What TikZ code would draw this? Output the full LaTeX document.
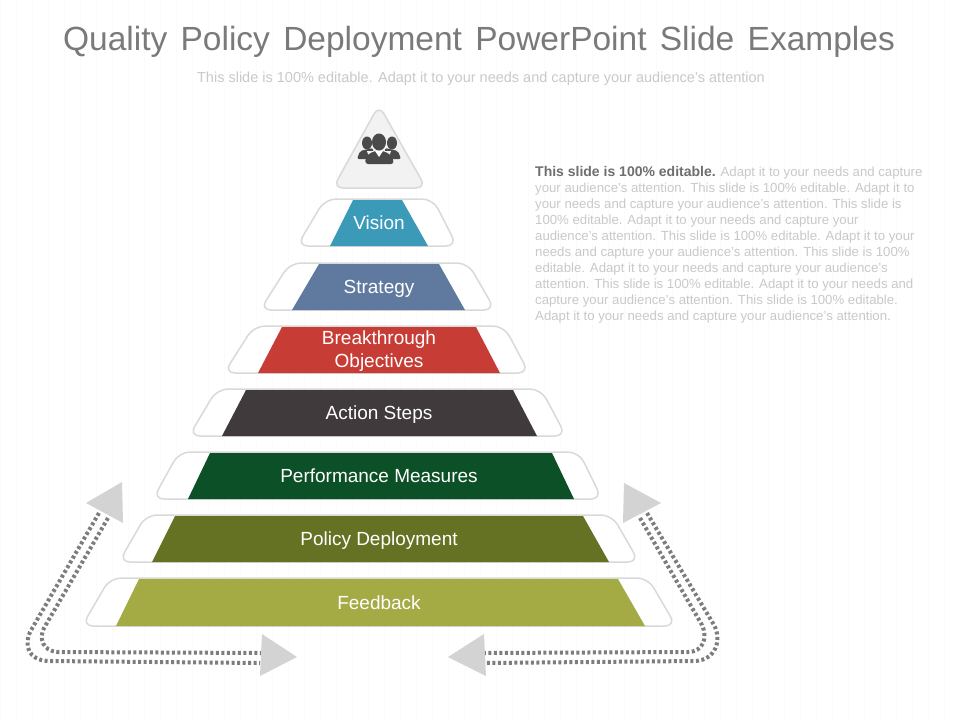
\documentclass[tikz,border=0pt]{standalone}
\usepackage{fontspec}
\setmainfont{Liberation Sans}
\usepackage{tikz}
\usetikzlibrary{positioning}
\definecolor{titlegray}{HTML}{7A7A7A}
\definecolor{paletext}{HTML}{C9C9C9}
\definecolor{boldtext}{HTML}{6E6E6E}
\definecolor{outline}{HTML}{D9D9D9}
\definecolor{headgray}{HTML}{D3D3D3}
\definecolor{dotgray}{HTML}{7D7D7D}
\definecolor{icongray}{HTML}{4A4A4A}
\definecolor{gridgray}{HTML}{FBFBFB}
\definecolor{visioncol}{HTML}{3A9AB8}
\definecolor{strategycol}{HTML}{5F7A9E}
\definecolor{breakcol}{HTML}{C83C36}
\definecolor{actioncol}{HTML}{403A3C}
\definecolor{perfcol}{HTML}{0B5026}
\definecolor{policycol}{HTML}{667223}
\definecolor{feedbackcol}{HTML}{A4AB45}
\tikzset{
    shell/.style={draw=outline, fill=white, line width=1.5pt, rounded corners=11pt},
    bandtext/.style={text=white, align=center, font=\fontsize{19}{23}\selectfont},
    dotline/.style={draw=dotgray, line width=4pt, dash pattern=on 3pt off 2.5pt},
    headtip/.style={fill=headgray},
}
\begin{document}
\begin{tikzpicture}[x=1pt, y=-1pt]
    \useasboundingbox (0,0) rectangle (960,720);
    \fill[white] (0,0) rectangle (960,720);
    \draw[gridgray, line width=0.8pt, step=16] (0,720) grid (960,0);

    \node (title) at (479,42) [text=titlegray, font=\fontsize{33.5}{40}\selectfont] {Quality\hspace{4pt} Policy\hspace{4pt} Deployment\hspace{4pt} PowerPoint\hspace{4pt} Slide\hspace{4pt} Examples};
    \node (subtitle) at (481,79) [text=paletext, font=\fontsize{14.5}{16}\selectfont] {This slide is 100\% editable.  Adapt it to your needs and capture your audience's attention};

    \node (para) at (535,166) [anchor=north west, inner sep=0pt, align=left, text=paletext, font=\fontsize{13.2}{16}\selectfont] {%
        \textcolor{boldtext}{\fontsize{14}{16}\selectfont\textbf{This slide is 100\% editable.}} Adapt it to your needs and capture\\
        your audience's attention. This slide is 100\% editable. Adapt it to\\
        your needs and capture your audience's attention. This slide is\\
        100\% editable. Adapt it to your needs and capture your\\
        audience's attention. This slide is 100\% editable. Adapt it to your\\
        needs and capture your audience's attention. This slide is 100\%\\
        editable. Adapt it to your needs and capture your audience's\\
        attention. This slide is 100\% editable. Adapt it to your needs and\\
        capture your audience's attention. This slide is 100\% editable.\\
        Adapt it to your needs and capture your audience's attention.};

    % top triangle and the people in it
    \draw[draw=outline, fill=black!5, line width=1.5pt, rounded corners=10pt] (379,105) -- (426,188) -- (333,188) -- cycle;
    \fill[icongray] (367,143) ellipse [x radius=5, y radius=6.5];
    \fill[icongray] (392,143) ellipse [x radius=5, y radius=6.5];
    \fill[icongray, rounded corners=2pt] (357,159) -- (360,151) -- (373,148) -- (373,159) -- cycle;
    \fill[icongray, rounded corners=2pt] (401,159) -- (398,151) -- (385,148) -- (385,159) -- cycle;
    \fill[black!5] (367,151) -- (371,164) -- (387,164) -- (391,151) -- cycle;
    \fill[icongray] (379,142) ellipse [x radius=7, y radius=8.5];
    \fill[icongray, rounded corners=3pt] (365,164) -- (366,156) -- (374,151) -- (384,151) -- (392,156) -- (394,164) -- cycle;
    \fill[white] (375,151) -- (379,157) -- (383,151) -- cycle;

    % the seven bands
    \draw[shell] (325,199) -- (433,199) -- (457,246) -- (297,246) -- cycle;
    \fill[visioncol] (353,200) -- (402,200) -- (428,246) -- (330,246) -- cycle;
    \node (vision) at (379,223) [bandtext] {Vision};

    \draw[shell] (290,263) -- (468,263) -- (495,310) -- (260,310) -- cycle;
    \fill[strategycol] (319,264) -- (439,264) -- (465,310) -- (292,310) -- cycle;
    \node (strategy) at (379,289) [bandtext] {Strategy};

    \draw[shell] (254,326) -- (504,326) -- (529,373) -- (224,373) -- cycle;
    \fill[breakcol] (282,327) -- (476,327) -- (500,373) -- (258,373) -- cycle;
    \node (breakthrough) at (379,351) [bandtext] {Breakthrough\\Objectives};

    \draw[shell] (217,389) -- (541,389) -- (566,436) -- (189,436) -- cycle;
    \fill[actioncol] (246,390) -- (513,390) -- (537,436) -- (222,436) -- cycle;
    \node (action) at (379,415) [bandtext] {Action Steps};

    \draw[shell] (179,452) -- (579,452) -- (602,499) -- (153,499) -- cycle;
    \fill[perfcol] (210,453) -- (552,453) -- (574,499) -- (188,499) -- cycle;
    \node (performance) at (379,476) [bandtext] {Performance Measures};

    \draw[shell] (146,515) -- (612,515) -- (639,562) -- (119,562) -- cycle;
    \fill[policycol] (175,516) -- (583,516) -- (609,562) -- (152,562) -- cycle;
    \node (policy) at (379,541) [bandtext] {Policy Deployment};

    \draw[shell] (110,578) -- (648,578) -- (676,626) -- (82,626) -- cycle;
    \fill[feedbackcol] (139,579) -- (618,579) -- (645,626) -- (116,626) -- cycle;
    \node (feedback) at (379,603) [bandtext] {Feedback};

    % dotted returns, left and right
    \coordinate (leftupouter) at (99,513);
    \coordinate (leftupinner) at (108,518);
    \coordinate (leftlowouter) at (260,663);
    \coordinate (leftlowinner) at (262,653);
    \coordinate (rightupouter) at (647,513);
    \coordinate (rightupinner) at (640,518);
    \coordinate (rightlowouter) at (485,663);
    \coordinate (rightlowinner) at (485,653);
    \draw[dotline] (leftupouter) -- (30,632) .. controls (24,645) and (28,660) .. (48,661) -- (leftlowouter);
    \draw[dotline] (leftupinner) -- (44,628) .. controls (39,638) and (42,651) .. (58,652) -- (leftlowinner);
    \draw[dotline] (rightupouter) -- (714,625) .. controls (722,640) and (716,660) .. (695,661) -- (rightlowouter);
    \draw[dotline] (rightupinner) -- (702,625) .. controls (708,638) and (703,652) .. (688,652) -- (rightlowinner);

    \fill[headtip] (122,482) -- (86,503) -- (123,523) -- cycle;
    \fill[headtip] (262,634) -- (297,657) -- (260,676) -- cycle;
    \fill[headtip] (624,483) -- (661,503) -- (623,523) -- cycle;
    \fill[headtip] (484,634) -- (448,657) -- (486,676) -- cycle;
\end{tikzpicture}
\end{document}
